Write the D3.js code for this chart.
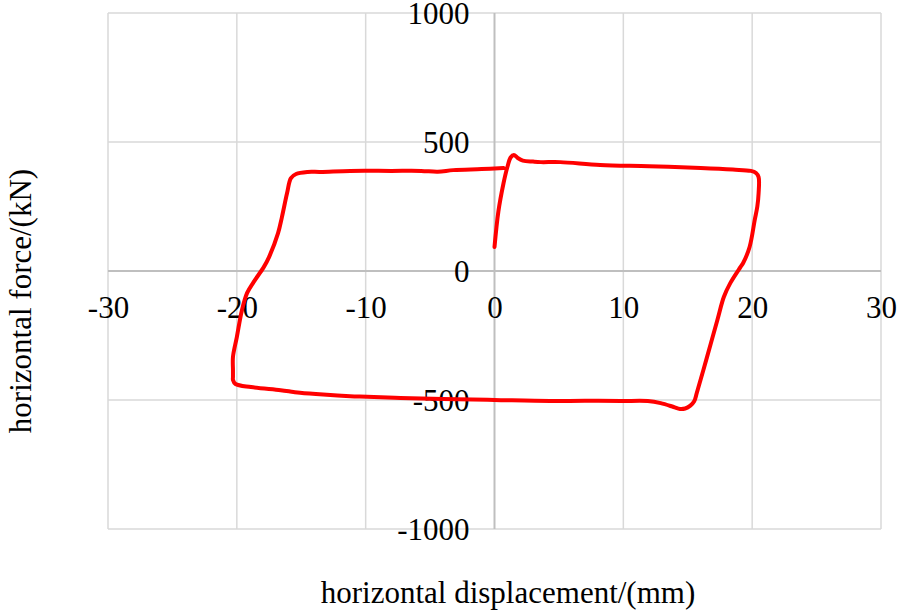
<!DOCTYPE html>
<html>
<head>
<meta charset="utf-8">
<script src="https://cdn.jsdelivr.net/npm/d3@7"></script>
<style>
  html, body { margin: 0; padding: 0; background: #fff; }
  text { font-family: "Liberation Serif", "Times New Roman", serif; fill: #000; }
</style>
</head>
<body>
<svg id="chart" width="900" height="614"></svg>
<script>

// hysteresis loop
const dispMm = [
  0, 0.3, 0.7, 1.0, 1.25, 1.5, 1.8, 2.2, 3.0, 3.6, 5.1, 8.2, 12.0, 16.0, 18.5, 19.9, 20.3, 20.5,
  20.5, 20.4, 20.2, 19.8, 19.3, 19.1, 18.3, 17.8, 17.3, 16.5, 15.7, 15.5, 15.2, 14.8, 14.4, 13.9, 12.9, 11.9, 9.8,
  7.0, 4.3, 0, -4.0, -7.3, -9.9, -11.2, -13.3, -15.1, -15.6, -16.6, -18.9, -20.1, -20.3,
  -20.3, -20.3, -20.3, -20.0, -19.6, -19.2, -18.7, -17.9, -17.5, -16.8, -16.5, -16.1, -15.8, -15.4, -14.5, -13.5,
  -11.2, -8.0, -5.7, -4.4, -3.2, -1.0, 0.7
]
const forceKn = [
  93, 230, 340, 403, 440, 450, 438, 428, 424, 422, 422, 411, 406, 399, 393, 388, 380, 364,
  302, 250, 198, 93, 31, 16, -47, -101, -190, -333, -473, -505, -522, -533, -535, -527, -512, -504, -504,
  -503, -504, -500, -496, -492, -487, -485, -479, -472, -469, -462, -450, -438, -422,
  -411, -384, -333, -256, -151, -85, -43, 16, 54, 147, 209, 302, 360, 376, 384, 384,
  388, 388, 388, 385, 391, 395, 399
]

const xTicks = [-30, -20, -10, 0, 10, 20, 30]
const yTicks = [-1000, -500, 0, 500, 1000]

const xTitle = 'horizontal displacement/(mm)'
const yTitle = 'horizontal force/(kN)'

const points = dispMm.map((d, i) => ({ x: d, y: forceKn[i] }))

const svg = d3.select('#chart')

const plot = { left: 108, right: 881, top: 13, bottom: 529 }

const xScale = d3.scaleLinear().domain([-30, 30]).range([plot.left, plot.right])
const yScale = d3.scaleLinear().domain([-1000, 1000]).range([plot.bottom, plot.top])

// plain hyphen for negatives, like the original
const fmt = d => String(d)

// grid
const grid = svg.append('g').attr('class', 'grid')

grid.selectAll('.vgrid')
  .data(xTicks.filter(d => d !== 0))
  .join('line')
  .attr('class', 'vgrid')
  .attr('x1', d => xScale(d)).attr('x2', d => xScale(d))
  .attr('y1', plot.top).attr('y2', plot.bottom)
  .attr('stroke', '#d9d9d9').attr('stroke-width', 1.5)

grid.selectAll('.hgrid')
  .data(yTicks.filter(d => d !== 0))
  .join('line')
  .attr('class', 'hgrid')
  .attr('x1', plot.left).attr('x2', plot.right)
  .attr('y1', d => yScale(d)).attr('y2', d => yScale(d))
  .attr('stroke', '#d9d9d9').attr('stroke-width', 1.5)

// zero axes
svg.append('line')
  .attr('x1', plot.left).attr('x2', plot.right)
  .attr('y1', yScale(0)).attr('y2', yScale(0))
  .attr('stroke', '#bfbfbf').attr('stroke-width', 2)

svg.append('line')
  .attr('x1', xScale(0)).attr('x2', xScale(0))
  .attr('y1', plot.top).attr('y2', plot.bottom)
  .attr('stroke', '#bfbfbf').attr('stroke-width', 2)

// tick labels sit against the zero axes
const xAxis = svg.append('g')
  .attr('class', 'axis x-axis')
  .attr('transform', `translate(0, ${ yScale(0) })`)
  .call(d3.axisBottom(xScale).tickValues(xTicks).tickSize(0).tickPadding(0).tickFormat(fmt))

xAxis.select('.domain').remove()
xAxis.selectAll('text')
  .attr('y', 47).attr('dy', null)
  .style('font-size', '31px')
  .style('font-family', '"Liberation Serif", serif')

const yAxis = svg.append('g')
  .attr('class', 'axis y-axis')
  .attr('transform', `translate(${ xScale(0) }, 0)`)
  .call(d3.axisLeft(yScale).tickValues(yTicks).tickSize(0).tickPadding(0).tickFormat(fmt))

yAxis.select('.domain').remove()
yAxis.selectAll('text')
  .attr('x', -25).attr('dy', '0.35em')
  .style('font-size', '31px')
  .style('font-family', '"Liberation Serif", serif')

// the loop
const line = d3.line()
  .x(d => xScale(d.x))
  .y(d => yScale(d.y))
  .curve(d3.curveCatmullRom.alpha(0.5))

svg.append('path')
  .datum(points)
  .attr('d', line)
  .attr('fill', 'none')
  .attr('stroke', '#ff0000')
  .attr('stroke-width', 4)
  .attr('stroke-linejoin', 'round')
  .attr('stroke-linecap', 'round')

// titles
svg.append('text')
  .attr('x', 508).attr('y', 603)
  .attr('text-anchor', 'middle')
  .style('font-size', '31px')
  .text(xTitle)

svg.append('text')
  .attr('transform', 'translate(31, 301) rotate(-90)')
  .attr('text-anchor', 'middle')
  .style('font-size', '31px')
  .text(yTitle)

</script>
</body>
</html>
